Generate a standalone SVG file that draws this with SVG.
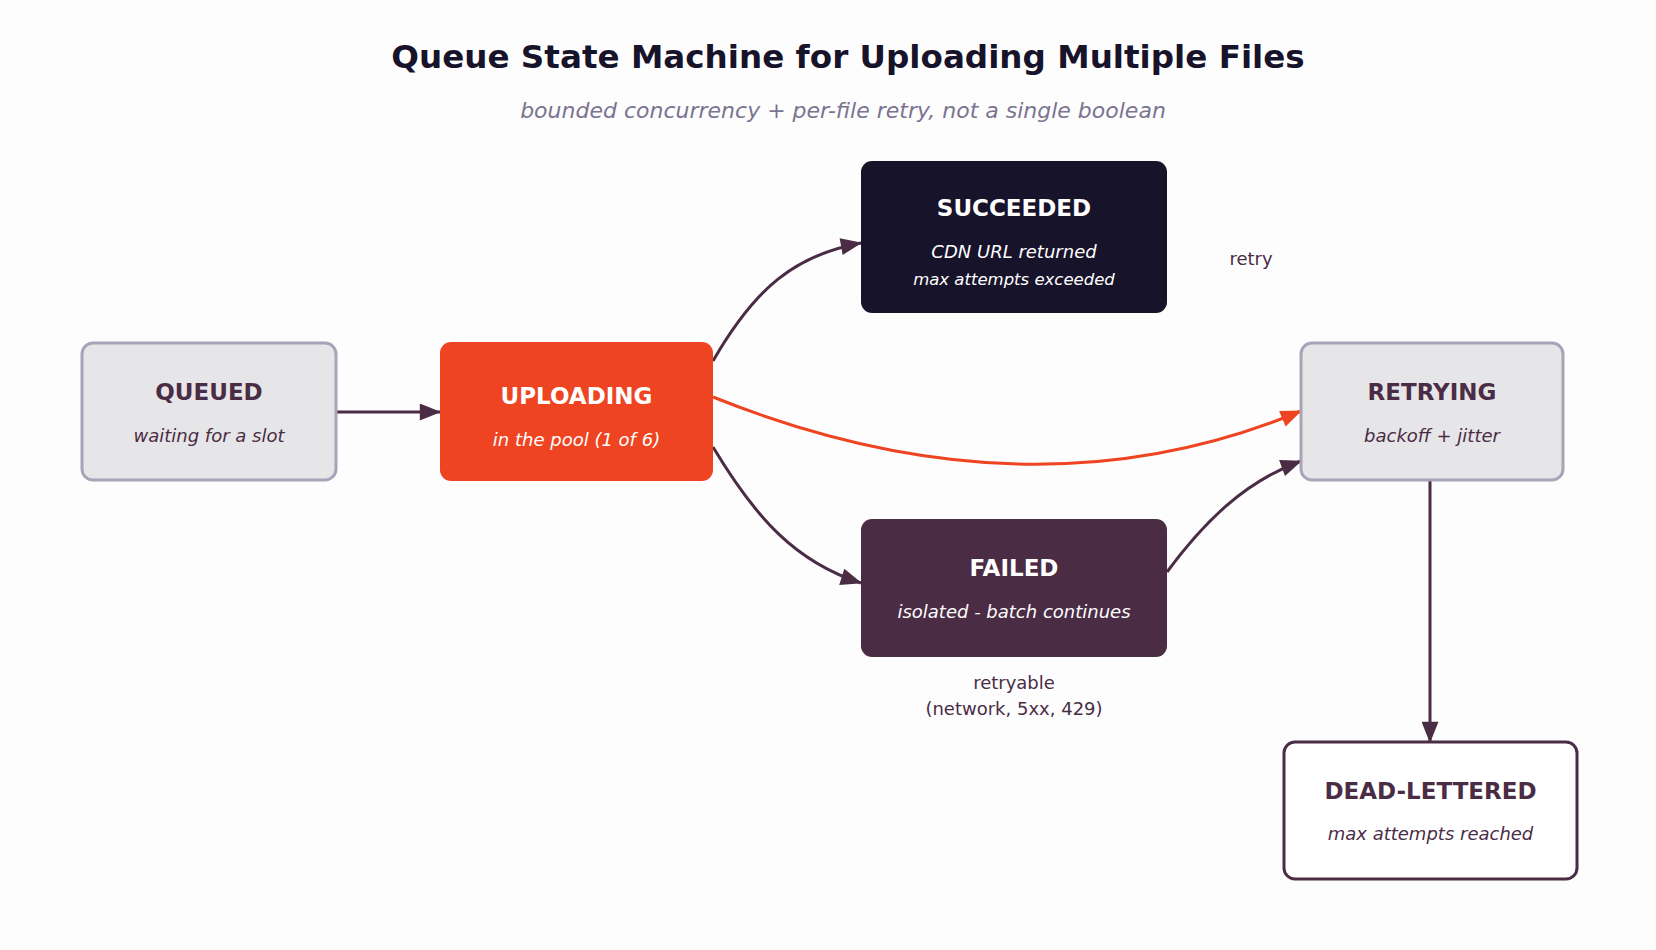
<svg xmlns="http://www.w3.org/2000/svg" width="1656" height="950" viewBox="0 0 1656 950">
<style>
.t{font-family:"DejaVu Sans",Verdana,sans-serif;text-anchor:middle}
.h{font-weight:bold;font-size:23px}
.s{font-style:italic;font-size:18px}
.lbl{font-family:"DejaVu Sans",Verdana,sans-serif;font-size:18px;fill:#4a2c45;text-anchor:middle}
.e{fill:none;stroke:#4a2c45;stroke-width:3}
.eo{fill:none;stroke:#ee4422;stroke-width:3}
.lite rect{fill:#e6e5e8;stroke:#a8a4b8;stroke-width:3}
.lite text{fill:#4a2c45}
</style>
<defs>
<marker id="ad" viewBox="0 0 20 16" refX="19" refY="8" markerWidth="22" markerHeight="17" markerUnits="userSpaceOnUse" orient="auto"><path d="M0,0L20,8L0,16z" fill="#4a2c45"/></marker>
<marker id="ao" viewBox="0 0 20 16" refX="19" refY="8" markerWidth="22" markerHeight="17" markerUnits="userSpaceOnUse" orient="auto"><path d="M0,0L20,8L0,16z" fill="#ee4422"/></marker>
</defs>
<rect width="1656" height="950" fill="#fdfdfe"/>
<text class="t" x="848" y="68" style="font-weight:bold;font-size:32.6px" fill="#17132a">Queue State Machine for Uploading Multiple Files</text>
<text class="t" x="843" y="118" style="font-style:italic;font-size:22px" fill="#7a7490">bounded concurrency + per-file retry, not a single boolean</text>
<g id="connectors">
<path class="e" d="M336,412L440,412" marker-end="url(#ad)"/>
<path class="e" d="M713,361C755,288 795,255 861,243" marker-end="url(#ad)"/>
<path class="eo" d="M713,397Q1030,524 1301,411" marker-end="url(#ao)"/>
<path class="e" d="M713,447C755,517 795,562 861,583" marker-end="url(#ad)"/>
<path class="e" d="M1167,572C1204,522 1244,482 1301,461" marker-end="url(#ad)"/>
<path class="e" d="M1430,481L1430,742" marker-end="url(#ad)"/>
<text class="lbl" x="1251" y="265">retry</text>
<text class="lbl" x="1014" y="689">retryable</text>
<text class="lbl" x="1014" y="715">(network, 5xx, 429)</text>
</g>
<g id="queued" class="lite">
<rect x="82" y="343" width="254" height="137" rx="11"/>
<text class="t h" x="209" y="400">QUEUED</text>
<text class="t s" x="209" y="442">waiting for a slot</text>
</g>
<g id="uploading">
<rect x="440" y="342" width="273" height="139" rx="11" fill="#ee4422"/>
<text class="t h" x="576.5" y="404" fill="#ffffff">UPLOADING</text>
<text class="t s" x="576.5" y="446" fill="#ffffff">in the pool (1 of 6)</text>
</g>
<g id="succeeded">
<rect x="861" y="161" width="306" height="152" rx="11" fill="#17132a"/>
<text class="t h" x="1014" y="216" fill="#ffffff">SUCCEEDED</text>
<text class="t s" x="1014" y="258" fill="#ffffff">CDN URL returned</text>
<text class="t" x="1014" y="285" style="font-style:italic;font-size:16.5px" fill="#ffffff">max attempts exceeded</text>
</g>
<g id="retrying" class="lite">
<rect x="1301" y="343" width="262" height="137" rx="11"/>
<text class="t h" x="1432" y="400">RETRYING</text>
<text class="t s" x="1432" y="442">backoff + jitter</text>
</g>
<g id="failed">
<rect x="861" y="519" width="306" height="138" rx="11" fill="#4a2c45"/>
<text class="t h" x="1014" y="576" fill="#ffffff">FAILED</text>
<text class="t s" x="1014" y="618" fill="#ffffff">isolated - batch continues</text>
</g>
<g id="deadlettered">
<rect x="1284" y="742" width="293" height="137" rx="11" fill="#ffffff" stroke="#4a2c45" stroke-width="3"/>
<text class="t h" x="1430.5" y="799" fill="#4a2c45">DEAD-LETTERED</text>
<text class="t s" x="1430.5" y="840" fill="#4a2c45">max attempts reached</text>
</g>
</svg>
